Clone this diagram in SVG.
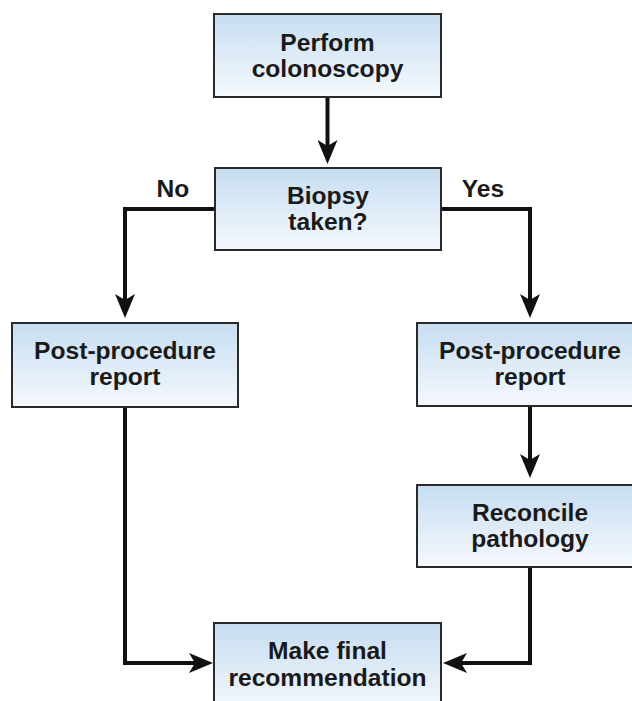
<svg xmlns="http://www.w3.org/2000/svg" width="632" height="701" viewBox="0 0 632 701">
<style>
.box{fill:url(#g);stroke:#2a2a2a;stroke-width:2}
.t{font-family:"Liberation Sans",Arial,sans-serif;font-weight:bold;font-size:24.6px;fill:#1a1a1a;text-anchor:middle}
.c{fill:none;stroke:#111;stroke-width:4;stroke-linejoin:miter}
</style>
<defs>
<linearGradient id="g" x1="0" y1="0" x2="0" y2="1">
<stop offset="0" stop-color="#c6ddf1"/>
<stop offset="1" stop-color="#f5f9fd"/>
</linearGradient>
<marker id="a" viewBox="0 0 24 20" refX="12" refY="10" markerWidth="24" markerHeight="20" markerUnits="userSpaceOnUse" orient="auto">
<path d="M0,0 L24,10 L0,20 L6,10 z" fill="#111"/>
</marker>
</defs>
<rect width="632" height="701" fill="#fff"/>
<g id="connectors">
<path class="c" d="M327.5,97 V152" marker-end="url(#a)"/>
<path class="c" d="M215,209 H125 V306" marker-end="url(#a)"/>
<path class="c" d="M441,209 H530 V306" marker-end="url(#a)"/>
<path class="c" d="M530,406 V466" marker-end="url(#a)"/>
<path class="c" d="M125,407 V663 H201" marker-end="url(#a)"/>
<path class="c" d="M530,567 V663 H455" marker-end="url(#a)"/>
<text class="t" x="173" y="197">No</text>
<text class="t" x="483" y="197">Yes</text>
</g>
<g id="perform">
<rect class="box" x="214" y="14" width="227" height="83"/>
<text class="t" x="327.5" y="51">Perform</text>
<text class="t" x="327.5" y="77">colonoscopy</text>
</g>
<g id="biopsy">
<rect class="box" x="215" y="168" width="226" height="82"/>
<text class="t" x="328" y="204">Biopsy</text>
<text class="t" x="328" y="230">taken?</text>
</g>
<g id="report-no">
<rect class="box" x="12" y="323" width="226" height="84"/>
<text class="t" x="125" y="359">Post-procedure</text>
<text class="t" x="125" y="385">report</text>
</g>
<g id="report-yes">
<rect class="box" x="417" y="323" width="226" height="83"/>
<text class="t" x="530" y="359">Post-procedure</text>
<text class="t" x="530" y="385">report</text>
</g>
<g id="reconcile">
<rect class="box" x="417" y="485" width="226" height="82"/>
<text class="t" x="530" y="521">Reconcile</text>
<text class="t" x="530" y="547">pathology</text>
</g>
<g id="final">
<rect class="box" x="214" y="623" width="227" height="90"/>
<text class="t" x="327.5" y="659">Make final</text>
<text class="t" x="327.5" y="686">recommendation</text>
</g>
</svg>
